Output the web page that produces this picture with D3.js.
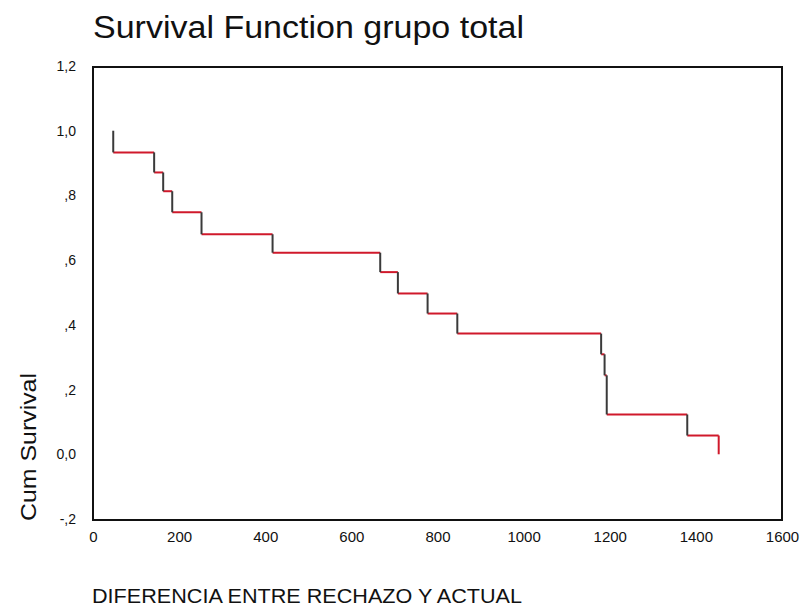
<!DOCTYPE html>
<html>
<head>
<meta charset="utf-8">
<script src="https://cdn.jsdelivr.net/npm/d3@7"></script>
<style>
  html, body { margin: 0; padding: 0; background: #fff; }
  svg { display: block; font-family: "Liberation Sans", Arial, sans-serif; }
</style>
</head>
<body>
<svg id="chart" width="805" height="609"></svg>
<script>
// Kaplan-Meier estimate: event times (days) and cumulative survival after each event
const eventTimes = [47, 142, 163, 184, 252, 417, 667, 708, 777, 846, 1180, 1188, 1193, 1380, 1453];
const cumSurvival = [0.933, 0.871, 0.813, 0.748, 0.680, 0.623, 0.563, 0.497, 0.435, 0.373, 0.309, 0.244, 0.123, 0.058, 0.0];

const xTicks = [0, 200, 400, 600, 800, 1000, 1200, 1400, 1600];
const yTicks = [-0.2, 0, 0.2, 0.4, 0.6, 0.8, 1.0, 1.2];
const yTickLabels = ["-,2", "0,0", ",2", ",4", ",6", ",8", "1,0", "1,2"];

const titleText = "Survival Function grupo total";
const xTitle = "DIFERENCIA ENTRE RECHAZO Y ACTUAL";
const yTitle = "Cum Survival";

const svg = d3.select("#chart");
const W = 805, H = 609;
svg.append("rect").attr("width", W).attr("height", H).attr("fill", "#fff");

const x = d3.scaleLinear().domain([0, 1600]).range([93, 782]);
const y = d3.scaleLinear().domain([-0.2, 1.2]).range([519, 66]);

// plot frame
svg.append("rect")
  .attr("x", 93).attr("y", 67)
  .attr("width", 689).attr("height", 453)
  .attr("fill", "none").attr("stroke", "#111").attr("stroke-width", 2);

// tick labels (no tick marks, no axis line)
const xAxis = d3.axisBottom(x).tickValues(xTicks).tickSize(0).tickPadding(0)
  .tickFormat(d3.format("d"));
const gx = svg.append("g").attr("transform", "translate(0,531)").call(xAxis);
gx.select(".domain").remove();
gx.selectAll("text").attr("font-size", 15).attr("fill", "#111")
  .attr("font-family", "'Liberation Sans', Arial, sans-serif");

const yAxis = d3.axisLeft(y).tickValues(yTicks).tickSize(0).tickPadding(0)
  .tickFormat((d, i) => yTickLabels[i]);
const gy = svg.append("g").attr("transform", "translate(76,0)").call(yAxis);
gy.select(".domain").remove();
gy.selectAll("text").attr("font-size", 14).attr("fill", "#111")
  .attr("font-family", "'Liberation Sans', Arial, sans-serif");

// survival step curve: horizontal runs in red, drops in dark grey
const horiz = [];
const vert = [];
for (let i = 0; i < eventTimes.length; i++) {
  const prev = i === 0 ? 1.0 : cumSurvival[i - 1];
  vert.push({ t: eventTimes[i], from: prev, to: cumSurvival[i], last: i === eventTimes.length - 1 });
  if (i < eventTimes.length - 1) {
    horiz.push({ t0: eventTimes[i], t1: eventTimes[i + 1], s: cumSurvival[i] });
  }
}

svg.append("g").selectAll("line.h").data(horiz).join("line")
  .attr("x1", d => x(d.t0)).attr("x2", d => x(d.t1))
  .attr("y1", d => y(d.s)).attr("y2", d => y(d.s))
  .attr("stroke", "#d0192b").attr("stroke-width", 2);

svg.append("g").selectAll("line.v").data(vert).join("line")
  .attr("x1", d => x(d.t)).attr("x2", d => x(d.t))
  .attr("y1", d => y(d.from)).attr("y2", d => y(d.to))
  .attr("stroke", d => d.last ? "#d0192b" : "#3a3a3a").attr("stroke-width", 2);

// titles
svg.append("text")
  .attr("x", 93).attr("y", 38)
  .attr("font-size", 31).attr("fill", "#111")
  .attr("textLength", 431).attr("lengthAdjust", "spacingAndGlyphs")
  .text(titleText);

svg.append("text")
  .attr("x", 92).attr("y", 603)
  .attr("font-size", 21).attr("fill", "#111")
  .attr("textLength", 430).attr("lengthAdjust", "spacingAndGlyphs")
  .text(xTitle);

svg.append("text")
  .attr("transform", "translate(36,521) rotate(-90)")
  .attr("font-size", 22).attr("fill", "#111")
  .attr("textLength", 148).attr("lengthAdjust", "spacingAndGlyphs")
  .text(yTitle);
</script>
</body>
</html>
